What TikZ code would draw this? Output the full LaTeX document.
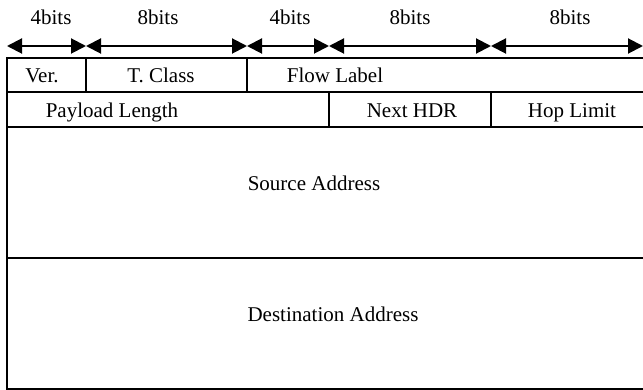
\documentclass[tikz,border=0pt]{standalone}
\usepackage{fontspec}
\setmainfont{Liberation Serif}
\usepackage{tikz}
\usetikzlibrary{arrows.meta}

\begin{document}
\begin{tikzpicture}[x=1pt,y=-1pt]
 \tikzstyle{field}=[inner sep=0pt,text height=14pt,text depth=4pt,
   font=\fontsize{21}{25}\selectfont]
 \tikzstyle{frame}=[line width=1.6pt]
 \tikzstyle{span}=[line width=2pt,
   {Triangle[length=15pt,width=15pt]}-{Triangle[length=15pt,width=15pt]}]
 \useasboundingbox (0,0) rectangle (643,390);
 \coordinate (b0) at (7,46);
 \coordinate (b1) at (86,46);
 \coordinate (b2) at (247,46);
 \coordinate (b3) at (329,46);
 \coordinate (b4) at (491,46);
 \coordinate (b5) at (643,46);
 \node (w0) [field] at (51,20) {4bits};
 \node (w1) [field] at (158,20) {8bits};
 \node (w2) [field] at (290,20) {4bits};
 \node (w3) [field] at (410,20) {8bits};
 \node (w4) [field] at (570,20) {8bits};
 \draw[span] (b0) -- (b1);
 \draw[span] (b1) -- (b2);
 \draw[span] (b2) -- (b3);
 \draw[span] (b3) -- (b4);
 \draw[span] (b4) -- (b5);
 \draw[frame] (660,58) -- (7,58) -- (7,389) -- (660,389);
 \draw[frame] (7,92) -- (660,92);
 \draw[frame] (7,127) -- (660,127);
 \draw[frame] (7,258) -- (660,258);
 \draw[frame] (86,58) -- (86,92);
 \draw[frame] (247,58) -- (247,92);
 \draw[frame] (329,92) -- (329,127);
 \draw[frame] (491,92) -- (491,127);
 \node (ver) [field] at (42,78) {Ver.};
 \node (tclass) [field] at (161,78) {T. Class};
 \node (flow) [field] at (335,78) {Flow Label};
 \node (payload) [field] at (112,113) {Payload Length};
 \node (nexthdr) [field] at (412,113) {Next HDR};
 \node (hoplimit) [field] at (572,113) {Hop Limit};
 \node (src) [field] at (314,186) {Source Address};
 \node (dst) [field] at (333,316) {Destination Address};
\end{tikzpicture}
\end{document}
